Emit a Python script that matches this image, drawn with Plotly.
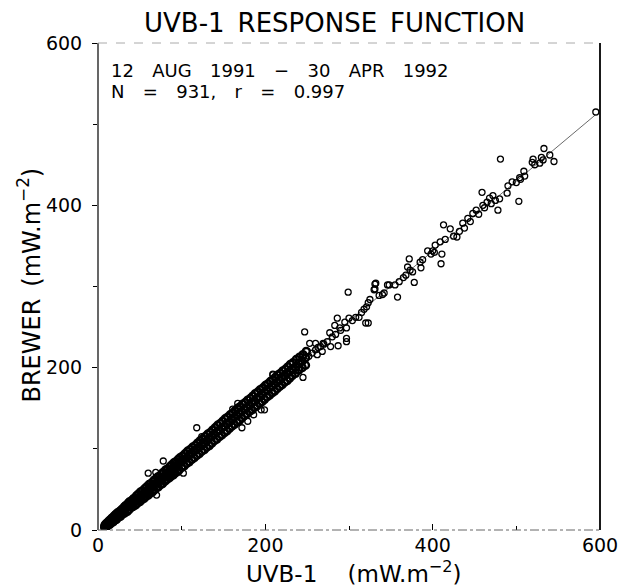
import plotly.graph_objects as go

# dense band of overlapping points (UVB-1, Brewer)
band_uvb = [
    8, 8, 9, 10, 10, 11, 12, 12, 13, 14, 14, 15, 16, 16, 17, 18, 18, 19, 20, 20, 21,
    22, 22, 23, 25, 25, 26, 27, 27, 28, 30, 30, 31, 32, 32, 33, 35, 35, 36, 37, 37, 38,
    40, 40, 41, 42, 42, 43, 45, 45, 46, 47, 47, 48, 50, 50, 51, 52, 52, 53, 55, 55, 56,
    57, 57, 58, 60, 60, 61, 62, 62, 63, 65, 65, 66, 67, 67, 68, 70, 70, 71, 72, 72, 73,
    75, 75, 76, 77, 77, 78, 80, 80, 81, 82, 82, 83, 85, 85, 86, 87, 87, 88, 90, 90, 91,
    92, 92, 93, 95, 95, 96, 97, 97, 98, 100, 100, 101, 103, 103, 104, 106, 106, 107,
    109, 109, 110, 112, 112, 113, 115, 115, 116, 118, 118, 119, 121, 121, 122, 124, 124,
    125, 127, 127, 128, 130, 130, 131, 133, 133, 134, 136, 136, 137, 139, 139, 140, 142,
    142, 143, 145, 145, 146, 148, 148, 149, 151, 151, 152, 154, 154, 155, 157, 157, 158,
    160, 160, 161, 163, 163, 164, 166, 166, 167, 169, 169, 170, 172, 172, 173, 175, 175,
    176, 178, 178, 179, 181, 181, 182, 184, 184, 185, 187, 187, 188, 190, 190, 191, 193,
    193, 194, 196, 196, 197, 199, 199, 200, 202, 202, 203, 205, 205, 206, 208, 208, 209,
    211, 211, 212, 214, 214, 215, 217, 217, 218, 220, 220, 221, 223, 223, 224, 226, 226,
    227, 229, 229, 230, 232, 232, 233, 236, 236, 237, 240, 240, 241, 244, 244, 245, 248,
    248, 249,
]
band_brewer = [
    3, 5, 7, 4, 7, 9, 6, 8, 11, 7, 10, 13, 9, 12, 15, 10, 14, 17, 12, 15, 19,
    13, 17, 21, 16, 20, 23, 17, 21, 25, 20, 24, 28, 21, 26, 30, 23, 28, 33, 25, 30, 35,
    28, 33, 37, 29, 34, 39, 31, 37, 42, 33, 39, 44, 35, 41, 47, 37, 43, 48, 39, 45, 51,
    41, 47, 53, 43, 50, 56, 45, 51, 57, 47, 54, 60, 49, 56, 62, 52, 58, 65, 53, 60, 66,
    56, 63, 69, 57, 64, 71, 60, 67, 74, 62, 69, 75, 64, 71, 78, 66, 73, 80, 68, 76, 83,
    70, 77, 84, 72, 80, 87, 74, 82, 89, 77, 84, 91, 79, 87, 94, 82, 89, 97,
    84, 92, 99, 87, 95, 102, 89, 97, 104, 92, 100, 107, 94, 102, 110, 97, 105,
    112, 99, 107, 115, 102, 110, 118, 104, 113, 120, 107, 115, 123, 110, 118, 126, 112,
    121, 129, 115, 123, 131, 117, 126, 134, 120, 128, 137, 122, 131, 139, 125, 133, 142,
    128, 136, 144, 130, 139, 147, 133, 141, 150, 135, 144, 152, 138, 146, 155, 141, 149,
    157, 143, 151, 160, 146, 154, 162, 148, 157, 165, 151, 159, 168, 153, 162, 170, 156,
    164, 173, 158, 167, 175, 161, 170, 178, 164, 172, 180, 166, 175, 183, 169, 177, 185,
    171, 180, 188, 174, 182, 191, 177, 185, 193, 179, 188, 196, 182, 190, 198, 184, 193,
    201, 187, 195, 204, 190, 198, 206, 193, 201, 210, 197, 205, 213, 200, 208, 216, 203,
    212, 220,
]

# scattered points above ~250 and outliers around the band
spread_uvb = [
    595, 533, 545, 530, 520, 519, 481, 509, 504, 495, 490, 489, 503, 459, 472, 468, 465,
    460, 478, 452, 448, 442, 436, 413, 421, 429, 415, 409, 403, 394, 411, 410, 372, 370,
    373, 376, 386, 378, 346, 332, 331, 325, 323, 321, 358, 299, 312, 300, 295, 286, 283,
    289, 323, 320, 297, 247, 331, 330, 348, 277, 287, 297, 297, 253, 260, 269, 245, 209,
    118, 78, 60, 69, 70, 167, 161, 172, 179, 186, 195, 199, 209, 124, 102,
    252, 256, 260, 263, 266, 270, 274, 262, 268, 280, 284, 290, 278, 304, 308, 315, 318,
    340, 342, 336, 355, 360, 365, 368, 385, 388, 398, 400, 402, 425, 432, 438, 445, 455,
    462, 470, 475, 480, 500, 505, 510, 522, 528, 532, 540,
]
spread_brewer = [
    515, 470, 454, 459, 457, 453, 457, 442, 434, 429, 424, 415, 405, 416, 412, 409, 404,
    400, 394, 394, 390, 384, 378, 376, 371, 361, 358, 355, 351, 344, 340, 328, 334, 324,
    320, 318, 323, 305, 302, 304, 297, 284, 280, 275, 287, 293, 262, 261, 256, 261, 252,
    249, 255, 255, 249, 244, 303, 296, 302, 243, 227, 236, 232, 230, 230, 230, 188, 191,
    126, 85, 70, 71, 43, 156, 149, 126, 134, 142, 148, 148, 192, 115, 70,
    214, 218, 222, 225, 226, 229, 232, 216, 220, 238, 241, 246, 226, 258, 262, 268, 272,
    290, 292, 289, 302, 306, 311, 314, 330, 333, 340, 344, 342, 362, 368, 372, 380, 389,
    397, 402, 406, 408, 428, 432, 436, 450, 452, 456, 462,
]

# regression line end points
fit_uvb = [8, 594]
fit_brewer = [5, 511]

fig = go.Figure()

fig.add_trace(go.Scatter(x=fit_uvb, y=fit_brewer, mode="lines",
                         line=dict(color="#444", width=0.8), hoverinfo="skip"))

fig.add_trace(go.Scatter(x=band_uvb, y=band_brewer, mode="markers",
                         marker=dict(symbol="circle-open", size=7, color="black",
                                     line=dict(width=2.4, color="black"))))
fig.add_trace(go.Scatter(x=spread_uvb, y=spread_brewer, mode="markers",
                         marker=dict(symbol="circle-open", size=6, color="black",
                                     line=dict(width=1.3, color="black"))))

font = "DejaVu Sans, Arial, sans-serif"
sp = " \u2002\u2009"  # the scanned lettering has wide word gaps

fig.update_layout(
    width=621, height=588,
    margin=dict(l=98, r=21, t=43, b=58),
    paper_bgcolor="white", plot_bgcolor="white",
    showlegend=False,
    font=dict(family=font, color="black", size=19),
    xaxis=dict(range=[0, 600], tickvals=[0, 200, 400, 600], ticks="inside", ticklen=6,
               tickcolor="black", showgrid=False, zeroline=False, showline=False,
               automargin=False, ticklabelstandoff=2,
               minor=dict(tickvals=[100, 300, 500], ticks="inside", ticklen=4, tickcolor="black")),
    yaxis=dict(range=[0, 600], tickvals=[0, 200, 400, 600], ticks="outside", ticklen=5,
               tickcolor="black", showgrid=False, zeroline=False, showline=False,
               automargin=False, ticklabelstandoff=6,
               minor=dict(tickvals=[100, 300, 500], ticks="outside", ticklen=4, tickcolor="black")),
)

# frame: solid left/right, faint broken top/bottom as in the scan
fig.add_shape(type="line", xref="paper", yref="paper", x0=0, x1=0, y0=0, y1=1,
              line=dict(color="black", width=1.2))
fig.add_shape(type="line", xref="paper", yref="paper", x0=1, x1=1, y0=0, y1=1,
              line=dict(color="black", width=1.8))
fig.add_shape(type="line", xref="paper", yref="paper", x0=0, x1=1, y0=0, y1=0,
              line=dict(color="#666", width=1, dash="dashdot"))
fig.add_shape(type="line", xref="paper", yref="paper", x0=0, x1=1, y0=1, y1=1,
              line=dict(color="#aaa", width=1, dash="dash"))

fig.add_annotation(x=0.471, y=1, xref="paper", yref="paper", yanchor="middle", yshift=20,
                   showarrow=False,
                   text="UVB-1\u2002RESPONSE\u2002FUNCTION", font=dict(size=26, family=font))
fig.add_annotation(x=0.022, y=0.9445, xref="paper", yref="paper", xanchor="left",
                   yanchor="middle", showarrow=False,
                   text=sp.join(["12", "AUG", "1991", "−", "30", "APR", "1992"]),
                   font=dict(size=18, family=font))
fig.add_annotation(x=0.022, y=0.8994, xref="paper", yref="paper", xanchor="left",
                   yanchor="middle", showarrow=False,
                   text=sp.join(["N", "=", "931,", "r", "=", "0.997"]),
                   font=dict(size=18, family=font))
fig.add_annotation(x=0.51, y=0, xref="paper", yref="paper", yanchor="bottom", yshift=-59,
                   showarrow=False,
                   text="UVB-1\u2002\u2002 (mW.m<sup>−2</sup>)", font=dict(size=23, family=font))
fig.add_annotation(x=0, y=0.502, xref="paper", yref="paper", xanchor="center",
                   yanchor="middle", xshift=-69, showarrow=False,
                   textangle=-90, text="BREWER\u2002(mW.m<sup>−2</sup>)",
                   font=dict(size=24, family=font))

# drop the page's default body margin so the figure sits at the window corner
fig.write_html("out.html", config={"displayModeBar": False},
               post_script="document.body.style.margin = '0';")
